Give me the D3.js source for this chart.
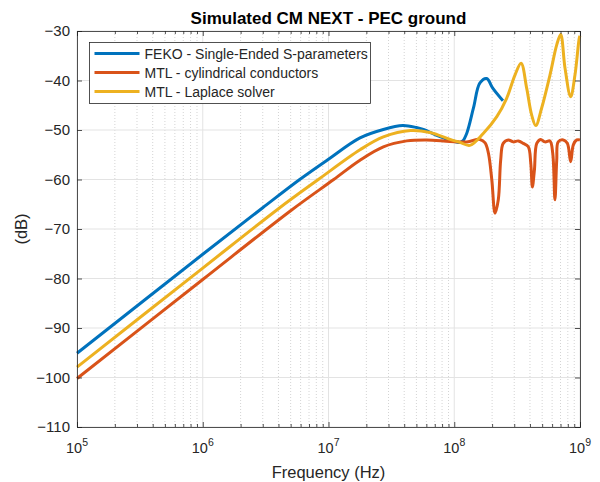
<!DOCTYPE html>
<html>
<head>
<meta charset="utf-8">
<script src="https://cdn.jsdelivr.net/npm/d3@7"></script>
<style>
  body { margin: 0; background: #fff; }
  text { font-family: 'Liberation Sans', Arial, sans-serif; fill: #262626; }
</style>
</head>
<body>
<div id="chart"></div>
<script>
// frequencies (Hz) and levels (dB)
const fekoF = [1e5, 1e6, 3e6, 5.9e6, 1e7, 1.78e7, 2.73e7, 3.9e7, 5e7, 5.68e7, 8.18e7, 1.11e8, 1.17e8, 1.26e8, 1.42e8, 1.60e8, 1.81e8, 2.03e8, 2.44e8]
const fekoDb = [-95.1, -75.1, -65.7, -60.0, -55.9, -51.6, -49.9, -49.1, -49.5, -49.9, -51.6, -52.5, -52.2, -50.6, -45.6, -40.5, -39.6, -41.6, -44.1]

const cylF = [1e5, 1e6, 5e6, 1.1e7, 1.78e7, 2.73e7, 4.19e7, 6.03e7, 9.25e7, 1.26e8, 1.60e8, 1.76e8, 1.87e8, 1.99e8, 2.11e8, 2.24e8, 2.34e8, 2.45e8, 2.69e8, 2.95e8, 3.23e8, 3.54e8, 3.88e8, 4.06e8, 4.18e8, 4.34e8, 4.53e8, 4.86e8, 5.27e8, 5.77e8, 6.07e8, 6.32e8, 6.53e8, 6.71e8, 7.36e8, 7.93e8, 8.43e8, 8.85e8, 9.42e8, 1e9]
const cylDb = [-100.2, -80.2, -66.3, -60.0, -56.1, -53.4, -52.2, -52.0, -52.3, -52.4, -51.9, -52.6, -54.7, -60.1, -66.8, -64.1, -56.1, -52.7, -52.0, -52.4, -52.2, -52.7, -53.4, -56.7, -61.5, -58.1, -52.7, -51.9, -52.4, -52.2, -54.7, -64.1, -56.1, -52.4, -52.0, -52.7, -56.4, -53.0, -52.0, -52.0]

const lapF = [1e5, 1e6, 4e6, 8.3e6, 1.78e7, 2.73e7, 4.5e7, 6.41e7, 9.25e7, 1.11e8, 1.33e8, 1.70e8, 2.18e8, 2.61e8, 3.04e8, 3.40e8, 3.77e8, 4.13e8, 4.45e8, 4.95e8, 5.77e8, 6.53e8, 7.02e8, 7.60e8, 8.43e8, 9.12e8, 9.86e8, 1e9]
const lapDb = [-97.9, -77.9, -65.9, -60.0, -54.0, -51.4, -50.1, -50.5, -51.9, -52.5, -53.1, -50.7, -47.3, -43.6, -38.9, -36.5, -41.6, -47.0, -49.1, -45.6, -38.9, -32.8, -30.7, -37.5, -43.3, -38.9, -31.5, -31.0]

const series = [
  { name: 'FEKO - Single-Ended S-parameters', f: fekoF, db: fekoDb, color: '#0072BD' },
  { name: 'MTL - cylindrical conductors', f: cylF, db: cylDb, color: '#D95319' },
  { name: 'MTL - Laplace solver', f: lapF, db: lapDb, color: '#EDB120' }
]

const yTicks = [-110, -100, -90, -80, -70, -60, -50, -40, -30]
const xDecades = [1e5, 1e6, 1e7, 1e8, 1e9]

const w = 600
const h = 482
const padL = 77, padR = 580, padT = 31, padB = 427

const x = d3.scaleLog().domain([1e5, 1e9]).range([padL, padR])
const y = d3.scaleLinear().domain([-110, -30]).range([padB, padT])

const svg = d3.select('#chart').append('svg')
  .attr('width', w)
  .attr('height', h)

// minor x grid (2..9 of each decade)
let minors = []
for (let d of xDecades.slice(0, -1)) {
  for (let k = 2; k <= 9; k++) minors.push(d * k)
}

svg.append('g').selectAll('line')
  .data(minors)
  .enter().append('line')
  .attr('x1', d => x(d)).attr('x2', d => x(d))
  .attr('y1', padT).attr('y2', padB)
  .attr('stroke', '#d4d4d4')
  .attr('stroke-dasharray', '1,2')

svg.append('g').selectAll('line')
  .data(xDecades)
  .enter().append('line')
  .attr('x1', d => x(d)).attr('x2', d => x(d))
  .attr('y1', padT).attr('y2', padB)
  .attr('stroke', '#e3e3e3')

svg.append('g').selectAll('line')
  .data(yTicks)
  .enter().append('line')
  .attr('x1', padL).attr('x2', padR)
  .attr('y1', d => y(d)).attr('y2', d => y(d))
  .attr('stroke', '#e3e3e3')

// curves
const line = d3.line()
  .x(d => x(d[0]))
  .y(d => y(d[1]))
  .curve(d3.curveCatmullRom.alpha(0.5))

const plot = svg.append('g')
for (let s of series) {
  plot.append('path')
    .datum(s.f.map((f, i) => [f, s.db[i]]))
    .attr('d', line)
    .attr('fill', 'none')
    .attr('stroke', s.color)
    .attr('stroke-width', 3)
    .attr('stroke-linejoin', 'round')
}

// axes (inward ticks, box on)
const axisColor = '#262626'
const yAxis = d3.axisLeft(y).tickValues(yTicks).tickSize(-5).tickPadding(7).tickFormat(d3.format('d'))
const yAxisR = d3.axisRight(y).tickValues(yTicks).tickSize(-5).tickFormat('')
const xAxis = d3.axisBottom(x).tickValues(xDecades).tickSize(-5).tickFormat('')
const xAxisT = d3.axisTop(x).tickValues(xDecades).tickSize(-5).tickFormat('')
const xMinB = d3.axisBottom(x).tickValues(minors).tickSize(-3).tickFormat('')
const xMinT = d3.axisTop(x).tickValues(minors).tickSize(-3).tickFormat('')

const styleAxis = g => {
  g.selectAll('path').attr('stroke', axisColor).attr('stroke-width', 0.8)
  g.selectAll('line').attr('stroke', axisColor).attr('stroke-width', 0.8)
  g.selectAll('text').attr('fill', axisColor).style('font-size', '15px').attr('font-family', "'Liberation Sans', Arial, sans-serif")
}

svg.append('g').attr('transform', `translate(${padL},0)`).call(yAxis).call(styleAxis)
svg.append('g').attr('transform', `translate(${padR},0)`).call(yAxisR).call(styleAxis)
svg.append('g').attr('transform', `translate(0,${padB})`).call(xAxis).call(styleAxis)
svg.append('g').attr('transform', `translate(0,${padT})`).call(xAxisT).call(styleAxis)
svg.append('g').attr('transform', `translate(0,${padB})`).call(xMinB).call(styleAxis).select('path').remove()
svg.append('g').attr('transform', `translate(0,${padT})`).call(xMinT).call(styleAxis).select('path').remove()

// x tick labels as 10^n
const xl = svg.append('g').selectAll('text')
  .data(xDecades)
  .enter().append('text')
  .attr('x', d => x(d))
  .attr('y', 453)
  .attr('text-anchor', 'middle')
  .style('font-size', '14.5px')
xl.append('tspan').text('10')
xl.append('tspan').attr('dy', -7).style('font-size', '10.5px').text(d => Math.round(Math.log10(d)))

// titles
svg.append('text')
  .attr('x', (padL + padR) / 2).attr('y', 24)
  .attr('text-anchor', 'middle')
  .style('font-size', '17px').style('font-weight', 'bold')
  .style('fill', '#000')
  .text('Simulated CM NEXT - PEC ground')

svg.append('text')
  .attr('x', (padL + padR) / 2).attr('y', 478)
  .attr('text-anchor', 'middle')
  .style('font-size', '16.5px')
  .text('Frequency (Hz)')

svg.append('text')
  .attr('transform', `translate(27,${(padT + padB) / 2}) rotate(-90)`)
  .attr('text-anchor', 'middle')
  .style('font-size', '16.5px')
  .text('(dB)')

// legend
const lg = svg.append('g').attr('transform', 'translate(89.5,42.5)')
lg.append('rect')
  .attr('width', 281).attr('height', 61)
  .attr('fill', '#fff').attr('stroke', axisColor).attr('stroke-width', 0.8)

const items = lg.selectAll('g.item')
  .data(series)
  .enter().append('g')
  .attr('transform', (d, i) => `translate(0,${11 + i * 19})`)
items.append('line')
  .attr('x1', 5).attr('x2', 50)
  .attr('stroke', d => d.color).attr('stroke-width', 3)
items.append('text')
  .attr('x', 55).attr('y', 5)
  .style('font-size', '14px')
  .text(d => d.name)
</script>
</body>
</html>
